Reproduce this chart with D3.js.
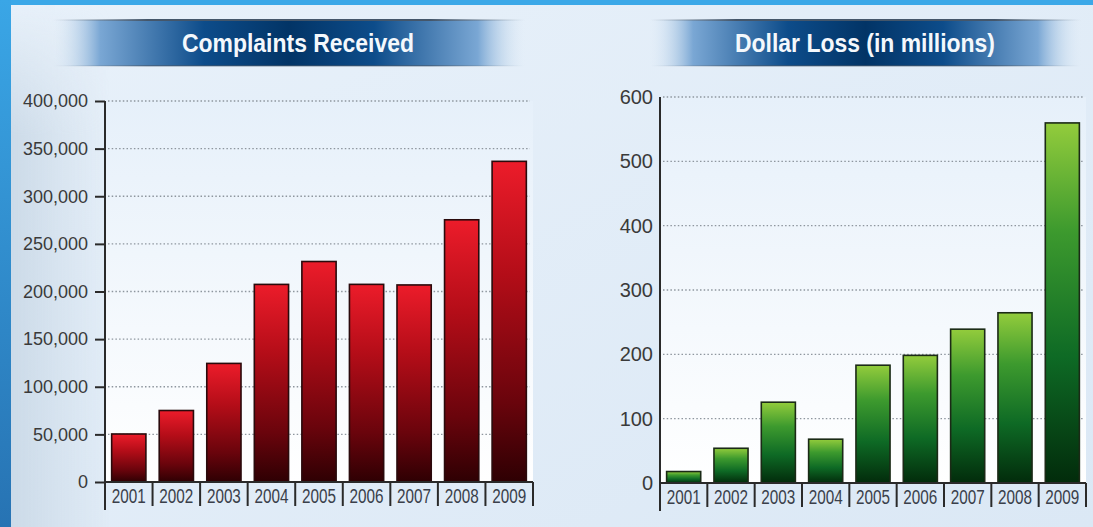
<!DOCTYPE html>
<html>
<head>
<meta charset="utf-8">
<script src="https://cdn.jsdelivr.net/npm/d3@7"></script>
<style>
  body { margin: 0; background: #e3eef8; overflow: hidden; }
  svg { display: block; }
  .tick text { fill: #3a3a3a; }
</style>
</head>
<body>
<div id="chart"></div>
<script>
var width = 1093, height = 527;

// data
var years = ["2001", "2002", "2003", "2004", "2005", "2006", "2007", "2008", "2009"];
var complaints = [50412, 75064, 124509, 207449, 231493, 207492, 206884, 275284, 336655];
var dollarLoss = [17.8, 54.0, 125.6, 68.1, 183.1, 198.4, 239.1, 264.6, 559.7];
var complaintTicks = [0, 50000, 100000, 150000, 200000, 250000, 300000, 350000, 400000];
var lossTicks = [0, 100, 200, 300, 400, 500, 600];

var svg = d3.select("#chart")
    .append("svg")
    .attr("width", width)
    .attr("height", height);

var defs = svg.append("defs");

// page background + blue frame
var bg = defs.append("linearGradient").attr("id", "bg")
    .attr("x1", "0%").attr("y1", "0%").attr("x2", "100%").attr("y2", "100%");
bg.append("stop").attr("offset", "0%").attr("stop-color", "#e8f1fa");
bg.append("stop").attr("offset", "100%").attr("stop-color", "#dbe8f5");
svg.append("rect").attr("width", width).attr("height", height).style("fill", "url(#bg)");

// faded decoration on the far left
var deco = defs.append("linearGradient").attr("id", "deco")
    .attr("x1", "0%").attr("y1", "0%").attr("x2", "100%").attr("y2", "0%");
deco.append("stop").attr("offset", "0%").attr("stop-color", "#c9d8e6").attr("stop-opacity", 0.9);
deco.append("stop").attr("offset", "100%").attr("stop-color", "#c9d8e6").attr("stop-opacity", 0);
var decoV = defs.append("linearGradient").attr("id", "decoMask")
    .attr("x1", "0%").attr("y1", "0%").attr("x2", "0%").attr("y2", "100%");
decoV.append("stop").attr("offset", "0%").attr("stop-color", "#fff").attr("stop-opacity", 0);
decoV.append("stop").attr("offset", "25%").attr("stop-color", "#fff").attr("stop-opacity", 1);
decoV.append("stop").attr("offset", "100%").attr("stop-color", "#fff").attr("stop-opacity", 1);
defs.append("mask").attr("id", "decoM")
    .append("rect").attr("x", 11).attr("y", 5).attr("width", 100).attr("height", 522)
    .style("fill", "url(#decoMask)");
svg.append("rect").attr("x", 11).attr("y", 5).attr("width", 100).attr("height", 522)
    .attr("mask", "url(#decoM)")
    .style("fill", "url(#deco)");

var leftBand = defs.append("linearGradient").attr("id", "leftBand")
    .attr("x1", "0%").attr("y1", "0%").attr("x2", "0%").attr("y2", "100%");
leftBand.append("stop").attr("offset", "0%").attr("stop-color", "#3aa6e6");
leftBand.append("stop").attr("offset", "100%").attr("stop-color", "#2773b3");
svg.append("rect").attr("x", 0).attr("y", 0).attr("width", width).attr("height", 5).style("fill", "#3ba8e8");
svg.append("rect").attr("x", 0).attr("y", 0).attr("width", 11).attr("height", height).style("fill", "url(#leftBand)");

// plot area gradient
var plotBg = defs.append("linearGradient").attr("id", "plotBg")
    .attr("x1", "0%").attr("y1", "0%").attr("x2", "0%").attr("y2", "100%");
plotBg.append("stop").attr("offset", "0%").attr("stop-color", "#e6f0fa");
plotBg.append("stop").attr("offset", "100%").attr("stop-color", "#ffffff");

// title banner gradient
var banner = defs.append("linearGradient").attr("id", "banner")
    .attr("x1", "0%").attr("y1", "0%").attr("x2", "100%").attr("y2", "0%");
banner.append("stop").attr("offset", "0%").attr("stop-color", "#d9e7f4").attr("stop-opacity", 0);
banner.append("stop").attr("offset", "10%").attr("stop-color", "#7aa7d4");
banner.append("stop").attr("offset", "32%").attr("stop-color", "#0d4c8a");
banner.append("stop").attr("offset", "50%").attr("stop-color", "#023466");
banner.append("stop").attr("offset", "68%").attr("stop-color", "#0d4c8a");
banner.append("stop").attr("offset", "90%").attr("stop-color", "#7aa7d4");
banner.append("stop").attr("offset", "100%").attr("stop-color", "#d9e7f4").attr("stop-opacity", 0);

var bannerEdge = defs.append("linearGradient").attr("id", "bannerEdge")
    .attr("x1", "0%").attr("y1", "0%").attr("x2", "100%").attr("y2", "0%");
bannerEdge.append("stop").attr("offset", "0%").attr("stop-color", "#8a99a8").attr("stop-opacity", 0);
bannerEdge.append("stop").attr("offset", "20%").attr("stop-color", "#44566a");
bannerEdge.append("stop").attr("offset", "80%").attr("stop-color", "#44566a");
bannerEdge.append("stop").attr("offset", "100%").attr("stop-color", "#8a99a8").attr("stop-opacity", 0);

// bar gradients
function barGradient(id, stops) {
    var g = defs.append("linearGradient").attr("id", id)
        .attr("x1", "0%").attr("y1", "0%").attr("x2", "0%").attr("y2", "100%");
    stops.forEach(s => g.append("stop").attr("offset", s[0]).attr("stop-color", s[1]));
}
barGradient("redBar", [["0%", "#ec1c2a"], ["35%", "#b40d18"], ["75%", "#6a040c"], ["100%", "#2e0003"]]);
barGradient("greenBar", [["0%", "#93cc3c"], ["30%", "#3d9a2e"], ["65%", "#0e6a25"], ["100%", "#022b0b"]]);

function drawChart(opt) {
    var g = svg.append("g");

    // banner
    g.append("rect").attr("x", opt.banner[0]).attr("y", 20)
        .attr("width", opt.banner[1] - opt.banner[0]).attr("height", 46)
        .style("fill", "url(#banner)");
    g.append("rect").attr("x", opt.banner[0]).attr("y", 19)
        .attr("width", opt.banner[1] - opt.banner[0]).attr("height", 2)
        .style("fill", "url(#bannerEdge)");
    g.append("rect").attr("x", opt.banner[0]).attr("y", 65)
        .attr("width", opt.banner[1] - opt.banner[0]).attr("height", 1.5)
        .style("fill", "url(#bannerEdge)").style("opacity", 0.6);
    g.append("text")
        .attr("x", opt.titleX).attr("y", 52)
        .attr("text-anchor", "middle")
        .attr("textLength", opt.titleWidth)
        .attr("lengthAdjust", "spacingAndGlyphs")
        .style("font-family", "'Liberation Sans Narrow', 'Liberation Sans', Arial, sans-serif")
        .style("font-weight", "bold")
        .style("font-size", "25px")
        .style("fill", "#f4f8fc")
        .text(opt.title);

    var x = d3.scaleBand()
        .domain(years)
        .range(opt.xRange)
        .paddingInner(0.28)
        .paddingOuter(0.14);

    var y = d3.scaleLinear()
        .domain([0, opt.max])
        .range(opt.yRange);

    // plot area
    g.append("rect")
        .attr("x", opt.xRange[0]).attr("y", y(opt.max))
        .attr("width", opt.xRange[1] - opt.xRange[0])
        .attr("height", y(0) - y(opt.max))
        .style("fill", "url(#plotBg)");

    // dotted gridlines
    g.selectAll(".grid")
        .data(opt.ticks.filter(d => d > 0))
        .enter()
        .append("line")
        .attr("class", "grid")
        .attr("x1", opt.xRange[0] + 3).attr("x2", opt.xRange[1] - 3)
        .attr("y1", d => y(d)).attr("y2", d => y(d))
        .style("stroke", "#8e969e")
        .style("stroke-width", 1.4)
        .style("stroke-dasharray", "1.5,2.2");

    // bars
    g.selectAll(".bar")
        .data(opt.values)
        .enter()
        .append("rect")
        .attr("class", "bar")
        .attr("x", (d, i) => x(years[i]))
        .attr("y", d => y(d))
        .attr("width", x.bandwidth())
        .attr("height", d => y(0) - y(d))
        .style("fill", "url(#" + opt.fill + ")")
        .style("stroke", opt.stroke)
        .style("stroke-width", 1.6);

    // y axis
    var yAxis = d3.axisLeft(y)
        .tickValues(opt.ticks)
        .tickFormat(opt.format)
        .tickSize(opt.tickSize)
        .tickPadding(opt.tickPadding);

    var ay = g.append("g")
        .attr("transform", "translate(" + opt.xRange[0] + ",0)")
        .call(yAxis);
    ay.select(".domain").remove();
    ay.selectAll(".tick line").style("stroke", "#2a2a2a").style("stroke-width", 2);
    ay.selectAll(".tick text")
        .style("font-family", "'Liberation Sans', Arial, sans-serif")
        .style("font-size", opt.fontSize + "px");

    g.append("line")
        .attr("x1", opt.xRange[0]).attr("x2", opt.xRange[0])
        .attr("y1", y(opt.max)).attr("y2", y(0) + 28)
        .style("stroke", "#2a2a2a").style("stroke-width", 2);

    // x axis: baseline, separators, labels
    g.append("line")
        .attr("x1", opt.xRange[0]).attr("x2", opt.xRange[1])
        .attr("y1", y(0)).attr("y2", y(0))
        .style("stroke", "#2a2a2a").style("stroke-width", 2);

    var step = x.step();
    g.selectAll(".sep")
        .data(years)
        .enter()
        .append("line")
        .attr("class", "sep")
        .attr("x1", d => x(d) - x.paddingOuter() * step + step)
        .attr("x2", d => x(d) - x.paddingOuter() * step + step)
        .attr("y1", y(0)).attr("y2", y(0) + 24)
        .style("stroke", "#2a2a2a").style("stroke-width", 2);

    g.selectAll(".year")
        .data(years)
        .enter()
        .append("text")
        .attr("class", "year")
        .attr("x", d => x(d) + x.bandwidth() / 2)
        .attr("y", y(0) + 21)
        .attr("text-anchor", "middle")
        .attr("textLength", 34)
        .attr("lengthAdjust", "spacingAndGlyphs")
        .style("font-family", "'Liberation Sans Narrow', 'Liberation Sans', Arial, sans-serif")
        .style("font-size", "20px")
        .style("fill", "#3a3f4a")
        .text(d => d);
}

drawChart({
    title: "Complaints Received",
    titleX: 298, titleWidth: 232,
    banner: [53, 525],
    values: complaints,
    max: 400000,
    ticks: complaintTicks,
    format: d3.format(","),
    xRange: [105, 533],
    yRange: [482, 101],
    fill: "redBar",
    stroke: "#2a0a0c",
    tickSize: 10, tickPadding: 7,
    fontSize: 18
});

drawChart({
    title: "Dollar Loss (in millions)",
    titleX: 865, titleWidth: 260,
    banner: [650, 1081],
    values: dollarLoss,
    max: 600,
    ticks: lossTicks,
    format: d3.format("d"),
    xRange: [660, 1086],
    yRange: [483, 97],
    fill: "greenBar",
    stroke: "#1b2a16",
    tickSize: 0, tickPadding: 7,
    fontSize: 20
});
</script>
</body>
</html>
